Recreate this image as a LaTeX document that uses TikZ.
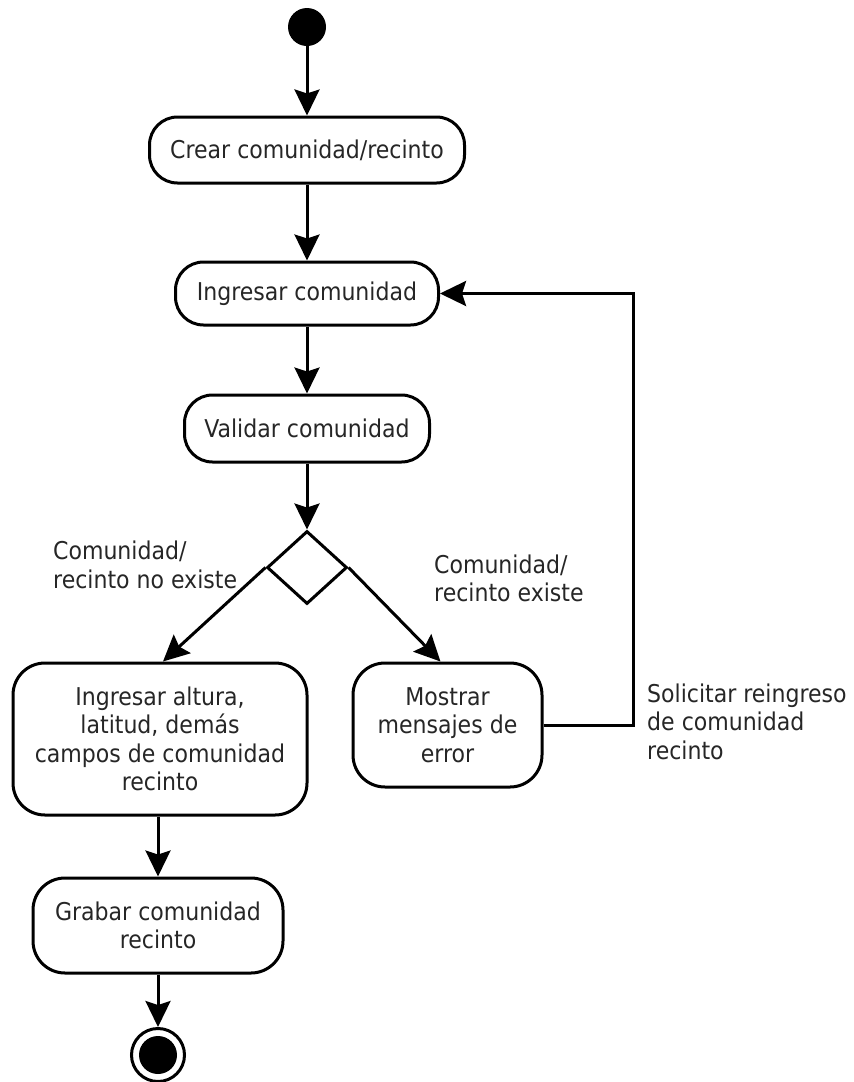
\documentclass[tikz,border=0pt]{standalone}
\usepackage{fontspec}
\setmainfont{DejaVu Sans Condensed}
\usetikzlibrary{shapes.geometric, arrows.meta}
\begin{document}
\begin{tikzpicture}[x=1pt, y=-1pt,
  every node/.style={font=\fontsize{24.5}{28.5}\selectfont, text=black!85},
  action/.style={draw, line width=3pt, rounded corners=28pt, align=center, inner sep=0pt},
  flow/.style={line width=3pt, -{Stealth[length=26pt, width=25pt, inset=4pt]}},
  guard/.style={align=left, anchor=west, inner sep=0pt}]
\fill[white] (0,0) rectangle (854,1082);
\useasboundingbox (0,0) rectangle (854,1082);

% initial and final states
\node[circle, fill=black, minimum size=38pt, inner sep=0pt] (start) at (307,27) {};
\node[circle, draw, line width=3pt, minimum size=53pt, inner sep=0pt] (final) at (158,1055) {};
\node[circle, fill=black, minimum size=38pt, inner sep=0pt] (finalin) at (final) {};

% actions
\node[action, minimum width=315pt, minimum height=66pt] (crear) at (307,150) {Crear comunidad/recinto};
\node[action, minimum width=263pt, minimum height=63pt] (ingresar) at (307,293.5) {Ingresar comunidad};
\node[action, minimum width=245pt, minimum height=67pt] (validar) at (307,428.5) {Validar comunidad};
\node[diamond, draw, line width=3pt, minimum width=80pt, minimum height=73pt, inner sep=0pt, aspect=1.1] (dec) at (307,567.5) {};
\node[action, minimum width=294pt, minimum height=152pt, rounded corners=32pt] (datos) at (160,739)
  {Ingresar altura,\\latitud, demás\\campos de comunidad\\recinto};
\node[action, minimum width=189pt, minimum height=124pt, rounded corners=32pt] (error) at (447.5,725)
  {Mostrar\\mensajes de\\error};
\node[action, minimum width=250pt, minimum height=95pt, rounded corners=32pt] (grabar) at (158,925.5)
  {Grabar comunidad\\recinto};

% guard labels
\node[guard] (noexiste) at (53,565) {Comunidad/\\recinto no existe};
\node[guard] (existe) at (434,578.5) {Comunidad/\\recinto existe};
\node[guard] (reingreso) at (647,721.5) {Solicitar reingreso\\de comunidad\\recinto};

% flows
\draw[flow] (start) -- (crear);
\draw[flow] (crear) -- (ingresar);
\draw[flow] (ingresar) -- (validar);
\draw[flow] (validar) -- (dec.north);
\draw[flow] (dec.west) -- ([xshift=3pt]datos.north);
\draw[flow] (dec.east) -- ([xshift=-7pt]error.north);
\draw[flow] (datos.south -| grabar) -- (grabar);
\draw[flow] (grabar) -- (final);
\coordinate (back) at (633,0);
\draw[flow] (error.east) -- (error.east -| back) -- (ingresar.east -| back) -- (ingresar.east);
\end{tikzpicture}
\end{document}
